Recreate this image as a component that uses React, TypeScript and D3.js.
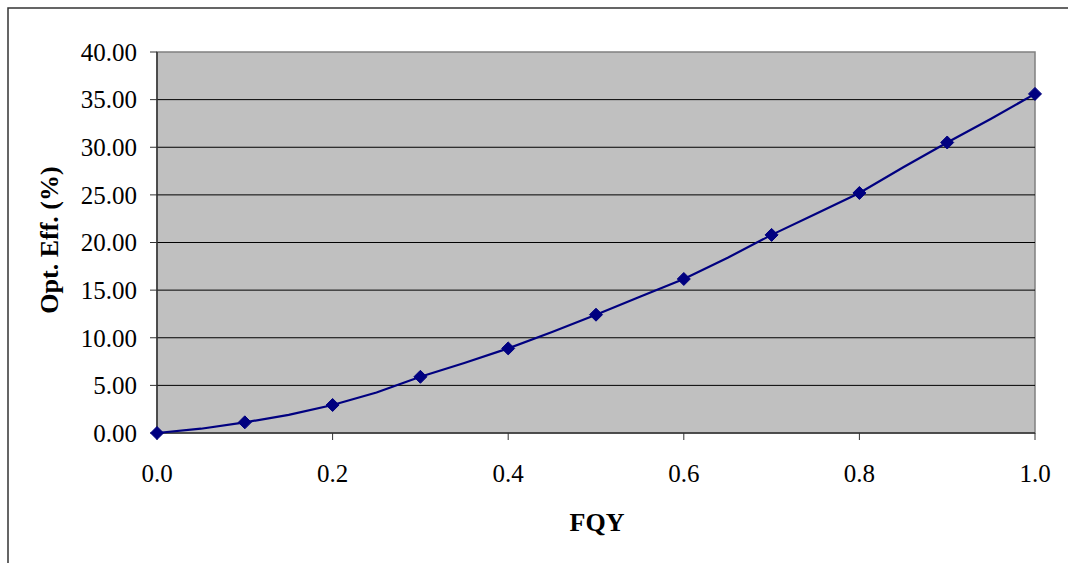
import React from "react";
import * as d3 from "d3";

const lineX = [0, 0.05, 0.1, 0.15, 0.2, 0.25, 0.3, 0.35, 0.4, 0.45, 0.5, 0.55, 0.6, 0.65, 0.7, 0.75, 0.8, 0.85, 0.9, 0.95, 1.0];
const lineY = [0, 0.45, 1.12, 1.9, 2.94, 4.25, 5.9, 7.35, 8.88, 10.6, 12.42, 14.3, 16.17, 18.4, 20.8, 23.0, 25.2, 27.9, 30.5, 33.0, 35.6];
const markerX = [0, 0.1, 0.2, 0.3, 0.4, 0.5, 0.6, 0.7, 0.8, 0.9, 1.0];
const markerY = [0, 1.12, 2.94, 5.9, 8.88, 12.42, 16.17, 20.8, 25.2, 30.5, 35.6];
const xTicks = [0, 0.2, 0.4, 0.6, 0.8, 1.0];
const yTicks = [0, 5, 10, 15, 20, 25, 30, 35, 40];

export default function App() {
  const W = 1068, H = 563;
  const left = 157, right = 1035, top = 52, bottom = 433;
  const x = d3.scaleLinear().domain([0, 1]).range([left, right]);
  const y = d3.scaleLinear().domain([0, 40]).range([bottom, top]);
  const line = d3.line<number>().x((_, i) => x(lineX[i])).y((d) => y(d));
  const font = "'Liberation Serif', 'Times New Roman', serif";
  const diamond = (cx: number, cy: number) => {
    const r = 6.5;
    return `M${cx},${cy - r}L${cx + r},${cy}L${cx},${cy + r}L${cx - r},${cy}Z`;
  };
  return (
    <svg width={W} height={H} style={{ position: "absolute", left: 0, top: 0 }}>
      <rect x={0} y={0} width={W} height={H} fill="#fff" />
      <rect x={8} y={8} width={W + 20} height={H + 20} fill="none" stroke="#333" strokeWidth={1.5} />
      <rect x={left} y={top} width={right - left} height={bottom - top} fill="#C0C0C0" stroke="#808080" strokeWidth={1.5} />
      {yTicks.filter((t) => t > 0 && t < 40).map((t) => (
        <line key={t} x1={left} x2={right} y1={y(t)} y2={y(t)} stroke="#000" strokeWidth={1} />
      ))}
      <line x1={left} x2={right} y1={bottom} y2={bottom} stroke="#333" strokeWidth={1.5} />
      <line x1={left} x2={left} y1={top} y2={bottom} stroke="#333" strokeWidth={1.5} />
      {yTicks.map((t) => (
        <g key={t}>
          <line x1={left - 7} x2={left} y1={y(t)} y2={y(t)} stroke="#333" strokeWidth={1} />
          <text x={137} y={y(t)} dy="0.35em" textAnchor="end" fontFamily={font} fontSize={25} fill="#000">
            {t.toFixed(2)}
          </text>
        </g>
      ))}
      {xTicks.map((t) => (
        <g key={t}>
          <line x1={x(t)} x2={x(t)} y1={bottom} y2={bottom + 7} stroke="#333" strokeWidth={1} />
          <text x={x(t)} y={482} textAnchor="middle" fontFamily={font} fontSize={25} fill="#000">
            {t.toFixed(1)}
          </text>
        </g>
      ))}
      <path d={line(lineY) || ""} fill="none" stroke="#000080" strokeWidth={2.2} />
      {markerY.map((v, i) => (
        <path key={i} d={diamond(x(markerX[i]), y(v))} fill="#000080" stroke="#000080" strokeWidth={1} />
      ))}
      <text x={597} y={531} textAnchor="middle" fontFamily={font} fontSize={26} fontWeight="bold" fill="#000">
        FQY
      </text>
      <text transform={`translate(58,240) rotate(-90)`} textAnchor="middle" fontFamily={font} fontSize={26} fontWeight="bold" fill="#000">
        Opt. Eff. (%)
      </text>
    </svg>
  );
}
